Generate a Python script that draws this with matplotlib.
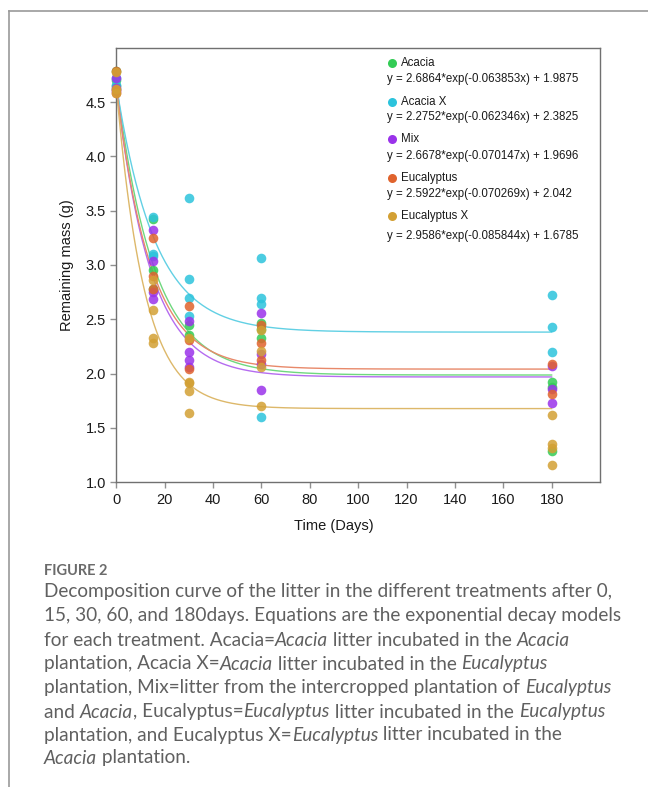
import numpy as np
import matplotlib
matplotlib.use('Agg')
import matplotlib.pyplot as plt

# data
treatments = ['Acacia', 'Acacia X', 'Mix', 'Eucalyptus', 'Eucalyptus X']
colors = ['#33cc55', '#2cc3dc', '#9a33ea', '#e0632d', '#d3a034']
line_colors = ['#6fd87f', '#62d0e4', '#b56cf0', '#e8896a', '#ddb86a']

# (day, remaining mass) per treatment
acacia = [(0, 4.79), (0, 4.70), (0, 4.65),
          (15, 3.42), (15, 2.95), (15, 2.78),
          (30, 2.45), (30, 2.36),
          (60, 2.47), (60, 2.41), (60, 2.33),
          (180, 1.92), (180, 1.88), (180, 1.29)]
acacia_x = [(0, 4.72), (0, 4.66), (0, 4.62),
            (15, 3.44), (15, 3.10), (15, 3.08),
            (30, 3.62), (30, 2.87), (30, 2.70), (30, 2.53),
            (60, 3.06), (60, 2.70), (60, 2.64), (60, 1.60),
            (180, 2.72), (180, 2.43), (180, 2.20)]
mix = [(0, 4.72), (0, 4.63), (0, 4.60),
       (15, 3.32), (15, 3.04), (15, 2.75), (15, 2.69),
       (30, 2.48), (30, 2.20), (30, 2.13), (30, 2.06),
       (60, 2.56), (60, 2.18), (60, 2.09), (60, 1.85),
       (180, 2.07), (180, 1.86), (180, 1.73)]
eucalyptus = [(0, 4.79), (0, 4.61), (0, 4.58),
              (15, 3.25), (15, 2.90), (15, 2.78),
              (30, 2.62), (30, 2.31), (30, 2.04),
              (60, 2.45), (60, 2.28), (60, 2.13),
              (180, 2.09), (180, 1.81)]
eucalyptus_x = [(0, 4.78), (0, 4.62), (0, 4.58),
                (15, 2.86), (15, 2.59), (15, 2.33), (15, 2.28),
                (30, 2.33), (30, 1.92), (30, 1.91), (30, 1.84), (30, 1.64),
                (60, 2.40), (60, 2.21), (60, 2.06), (60, 1.70),
                (180, 1.62), (180, 1.35), (180, 1.32), (180, 1.16)]
series = [acacia, acacia_x, mix, eucalyptus, eucalyptus_x]

# fitted model y = a*exp(-b*x) + c
fit_a = [2.6864, 2.2752, 2.6678, 2.5922, 2.9586]
fit_b = [0.063853, 0.062346, 0.070147, 0.070269, 0.085844]
fit_c = [1.9875, 2.3825, 1.9696, 2.042, 1.6785]
equations = ['y = 2.6864*exp(-0.063853x) + 1.9875',
             'y = 2.2752*exp(-0.062346x) + 2.3825',
             'y = 2.6678*exp(-0.070147x) + 1.9696',
             'y = 2.5922*exp(-0.070269x) + 2.042',
             'y = 2.9586*exp(-0.085844x) + 1.6785']

x_ticks = [0, 20, 40, 60, 80, 100, 120, 140, 160, 180]
y_ticks = [1.0, 1.5, 2.0, 2.5, 3.0, 3.5, 4.0, 4.5]

caption_title = 'FIGURE 2'
caption_lines = [
    [('Decomposition curve of the litter in the different treatments after 0,', False)],
    [('15, 30, 60, and 180days. Equations are the exponential decay models', False)],
    [('for each treatment. Acacia=', False), ('Acacia', True), (' litter incubated in the ', False), ('Acacia', True)],
    [('plantation, Acacia X=', False), ('Acacia', True), (' litter incubated in the ', False), ('Eucalyptus', True)],
    [('plantation, Mix=litter from the intercropped plantation of ', False), ('Eucalyptus', True)],
    [('and ', False), ('Acacia', True), (', Eucalyptus=', False), ('Eucalyptus', True), (' litter incubated in the ', False), ('Eucalyptus', True)],
    [('plantation, and Eucalyptus X=', False), ('Eucalyptus', True), (' litter incubated in the', False)],
    [('Acacia', True), (' plantation.', False)],
]

plt.rcParams['font.family'] = ['Liberation Sans', 'DejaVu Sans']

W, H = 648, 787
fig = plt.figure(figsize=(W / 100, H / 100), dpi=100)
fig.patch.set_facecolor('white')

# card frame (top and left edges only)
fig.add_artist(plt.Line2D([9 / W, 9 / W], [0, 1 - 11 / H], color='#9a9a9a', lw=1.2))
fig.add_artist(plt.Line2D([9 / W, 1], [1 - 11 / H, 1 - 11 / H], color='#9a9a9a', lw=1.2))

ax = fig.add_axes([116.3 / W, 1 - 482.3 / H, (600 - 116.3) / W, (482.3 - 47.7) / H])
ax.set_xlim(0, 200)
ax.set_ylim(1, 5)

# fitted curves
xs = np.linspace(0, 180, 400)
for i in range(len(treatments)):
    ax.plot(xs, fit_a[i] * np.exp(-fit_b[i] * xs) + fit_c[i], color=line_colors[i], lw=1.0, zorder=2)

# data points
for i, pts in enumerate(series):
    d = np.array(pts)
    ax.scatter(d[:, 0], d[:, 1], s=48, color=colors[i], alpha=0.85, linewidths=0, zorder=3, clip_on=False)

ax.set_xticks(x_ticks)
ax.set_yticks(y_ticks)
ax.set_yticklabels(['%.1f' % v for v in y_ticks])
for s in ax.spines.values():
    s.set_color('#707070')
    s.set_linewidth(1.0)
ax.tick_params(direction='out', length=4.5, width=1, color='#909090', labelsize=10.5, labelcolor='#1a1a1a', pad=3)

ax.set_xlabel('Time (Days)', fontsize=10.5, color='#1a1a1a', labelpad=5)
ax.xaxis.set_label_coords(90 / 200, -0.085)
ax.set_ylabel('Remaining mass (g)', fontsize=10.5, color='#1a1a1a', labelpad=8)

# legend with equations
def fy(pix):
    return (482.3 - pix) / 434.6

def fx(pix):
    return (pix - 116.3) / 483.7

name_y = [63.3, 101.7, 139.3, 177.7, 215.7]
eq_y = [79.0, 117.3, 155.7, 194.0, 235.7]
for i in range(len(treatments)):
    ax.plot([fx(391.7)], [fy(name_y[i])], 'o', ms=6.5, color=colors[i], mec='none', transform=ax.transAxes)
    ax.text(fx(401), fy(name_y[i]), treatments[i], fontsize=8.3, va='center', ha='left', color='#1a1a1a', transform=ax.transAxes)
    ax.text(fx(387.5), fy(eq_y[i]), equations[i], fontsize=8.3, va='center', ha='left', color='#1a1a1a', transform=ax.transAxes)

# caption
cap_font = ['Lato', 'DejaVu Sans']
fig.text(44 / W, 1 - 571 / H, caption_title, fontsize=10.5, color='#6b6b6b', family=cap_font,
         weight='bold', va='center', ha='left')

fig.canvas.draw()
renderer = fig.canvas.get_renderer()
line_y = [592, 616, 640, 664, 688, 712, 735, 758]
for ly, segs in zip(line_y, caption_lines):
    x = 44 / W
    for txt, italic in segs:
        t = fig.text(x, 1 - ly / H, txt, fontsize=13.7, color='#606060', family=cap_font,
                     style='italic' if italic else 'normal', va='center', ha='left')
        bb = t.get_window_extent(renderer)
        x += bb.width / W

fig.savefig('out.png', dpi=100)
